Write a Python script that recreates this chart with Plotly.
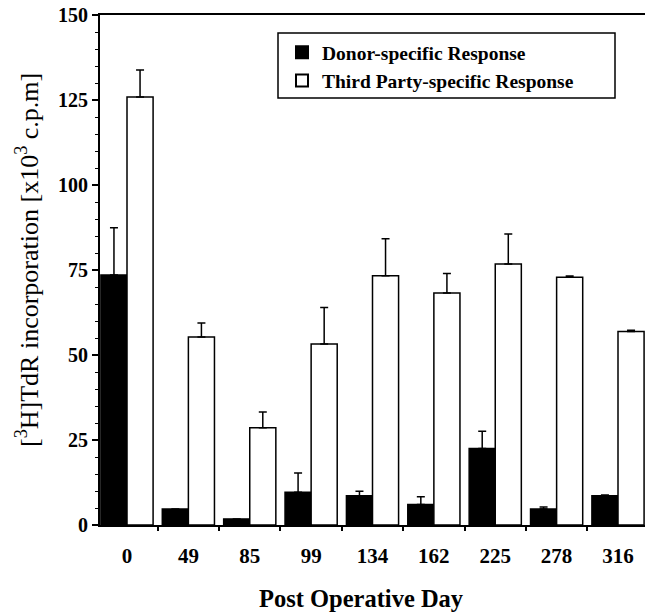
import plotly.graph_objects as go

days = ["0", "49", "85", "99", "134", "162", "225", "278", "316"]
donor = [73.5, 4.7, 1.8, 9.6, 8.6, 6.0, 22.5, 4.7, 8.6]
donor_err = [13.9, 0.0, 0.0, 5.7, 1.3, 2.3, 5.1, 0.6, 0.2]
third = [125.9, 55.3, 28.6, 53.2, 73.3, 68.2, 76.8, 72.9, 56.9]
third_err = [7.9, 4.1, 4.6, 10.8, 10.9, 5.8, 8.8, 0.3, 0.4]
y_ticks = [0, 25, 50, 75, 100, 125, 150]

FONT = "Liberation Serif"
L, T, B = 100, 15, 89
W, H = 645, 614
PW, PH = W - L, H - T - B


def px_x(p):
    return (p - L) / PW


def px_y(p):
    return (H - B - p) / PH


fig = go.Figure()
fig.add_trace(go.Bar(
    x=days, y=donor, name="<b>Donor-specific Response</b>",
    marker=dict(color="black", line=dict(color="black", width=1.5)),
    error_y=dict(type="data", symmetric=False, array=donor_err,
                 arrayminus=[0] * len(donor), color="black", thickness=1.5, width=4),
))
fig.add_trace(go.Bar(
    x=days, y=third, name="<b>Third Party-specific Response</b>",
    marker=dict(color="white", line=dict(color="black", width=1.5)),
    error_y=dict(type="data", symmetric=False, array=third_err,
                 arrayminus=[0] * len(third), color="black", thickness=1.5, width=4),
))

# legend frame
fig.add_shape(type="rect", xref="paper", yref="paper",
              x0=px_x(278), x1=px_x(615), y0=px_y(98), y1=px_y(33),
              line=dict(color="black", width=1.5), fillcolor="rgba(0,0,0,0)")

# axis titles as annotations for exact placement
fig.add_annotation(text="[<sup>3</sup>H]TdR incorporation [x10<sup>3</sup> c.p.m]",
                   xref="paper", yref="paper", x=px_x(27), y=px_y(260),
                   xanchor="center", yanchor="middle", textangle=-90, showarrow=False,
                   font=dict(family=FONT, size=26, color="black"))
fig.add_annotation(text="<b>Post Operative Day</b>",
                   xref="paper", yref="paper", x=px_x(361), y=px_y(598),
                   xanchor="center", yanchor="middle", showarrow=False,
                   font=dict(family=FONT, size=24.5, color="black"))

fig.update_layout(
    width=W, height=H,
    margin=dict(l=L, r=0, t=T, b=B),
    paper_bgcolor="white", plot_bgcolor="white",
    barmode="group", bargap=0.15, bargroupgap=0.0,
    font=dict(family=FONT, color="black"),
    showlegend=True,
    legend=dict(
        x=px_x(282), y=px_y(33), xanchor="left", yanchor="top",
        borderwidth=0, bgcolor="rgba(0,0,0,0)",
        font=dict(family=FONT, size=19.5, color="black"),
        itemsizing="constant", tracegroupgap=0,
    ),
    xaxis=dict(
        type="category", range=[-0.44, 8.44],
        showline=True, linecolor="black", linewidth=2, mirror=True,
        ticks="outside", tickson="boundaries", ticklen=4, tickwidth=1.5, tickcolor="black",
        tickfont=dict(family=FONT, size=21, color="black"),
        ticklabelstandoff=11,
        showgrid=False, zeroline=False,
        tickprefix="<b>", ticksuffix="</b>",
    ),
    yaxis=dict(
        range=[0, 150], tickvals=y_ticks,
        ticktext=[f"<b>{v}</b>" for v in y_ticks],
        showline=True, linecolor="black", linewidth=2,
        ticks="outside", ticklen=6, tickwidth=1.5, tickcolor="black",
        minor=dict(dtick=5, ticks="outside", ticklen=3, tickwidth=1.2, tickcolor="black", showgrid=False),
        tickfont=dict(family=FONT, size=20, color="black"),
        showgrid=False, zeroline=False,
    ),
)

fig.write_html("out.html", config={"displayModeBar": False},
               post_script="document.body.style.margin='0';document.body.style.overflow='hidden';")
